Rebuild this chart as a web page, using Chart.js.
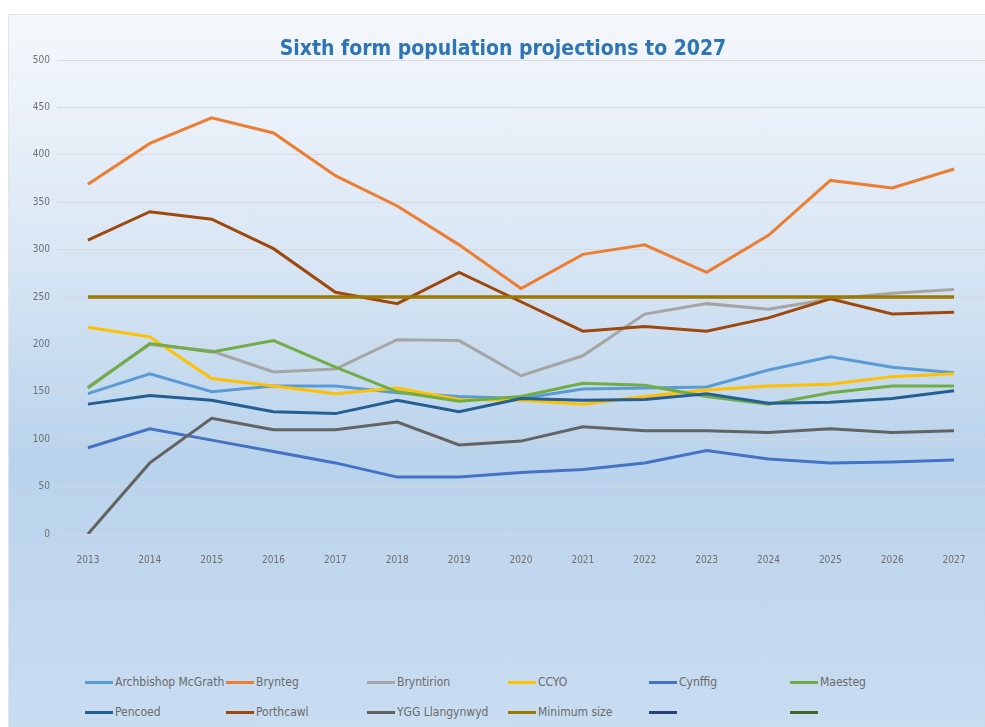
<!DOCTYPE html>
<html>
<head>
<meta charset="utf-8">
<script src="https://cdn.jsdelivr.net/npm/chart.js@4.4.1/dist/chart.umd.min.js"></script>
<style>
  html, body { margin: 0; padding: 0; width: 985px; height: 727px; overflow: hidden; background: #fff; }
  .frame {
    position: absolute; left: 8px; top: 14px; width: 990px; height: 720px;
    border: 1px solid #e2e4e8;
    background: linear-gradient(to bottom, #f5f8fc 0%, #dce8f5 30%, #b9d3ec 62%, #c2d8ee 80%, #c9ddf1 100%);
  }
  #myChart { position: absolute; left: 0; top: 0; }
  .title {
    position: absolute; left: 0; width: 1006px; top: 34px; text-align: center;
    font-family: 'Liberation Sans Narrow', 'DejaVu Sans Condensed', sans-serif;
    font-size: 21px; font-weight: bold; color: #2e75b6; line-height: 28px;
  }
  .legend-item {
    position: absolute; height: 14px; display: flex; align-items: center;
    font-family: 'Liberation Sans Narrow', 'DejaVu Sans Condensed', sans-serif;
    font-size: 12px; color: #6a6a6a; white-space: nowrap;
  }
  .legend-item span.swatch { display: inline-block; width: 28px; height: 3px; margin-right: 2px; }
</style>
</head>
<body>
<div class="frame"></div>
<canvas id="myChart" width="985" height="575"></canvas>
<div class="title">Sixth form population projections to 2027</div>
<div id="legend"></div>
<script>
const years = ['2013', '2014', '2015', '2016', '2017', '2018', '2019', '2020', '2021', '2022', '2023', '2024', '2025', '2026', '2027'];
const yTicks = [0, 50, 100, 150, 200, 250, 300, 350, 400, 450, 500];

const archbishop = [148, 169, 150, 156, 156, 149, 145, 143, 153, 154, 155, 173, 187, 176, 170];
const brynteg = [369, 412, 439, 423, 378, 346, 305, 259, 295, 305, 276, 315, 373, 365, 385];
const bryntirion = [155, 200, 193, 171, 174, 205, 204, 167, 188, 232, 243, 237, 248, 254, 258];
const ccyo = [218, 208, 164, 156, 148, 154, 142, 141, 137, 145, 152, 156, 158, 166, 169];
const cynffig = [91, 111, 99, 87, 75, 60, 60, 65, 68, 75, 88, 79, 75, 76, 78];
const maesteg = [154, 201, 192, 204, 176, 150, 140, 145, 159, 157, 145, 137, 149, 156, 156];
const pencoed = [137, 146, 141, 129, 127, 141, 129, 143, 141, 142, 148, 138, 139, 143, 151];
const porthcawl = [310, 340, 332, 301, 255, 243, 276, 245, 214, 219, 214, 228, 248, 232, 234];
const ygg = [0, 75, 122, 110, 110, 118, 94, 98, 113, 109, 109, 107, 111, 107, 109];
const minimumSize = [250, 250, 250, 250, 250, 250, 250, 250, 250, 250, 250, 250, 250, 250, 250];

const seriesNames = ['Archbishop McGrath', 'Brynteg', 'Bryntirion', 'CCYO', 'Cynffig', 'Maesteg',
    'Pencoed', 'Porthcawl', 'YGG Llangynwyd', 'Minimum size', '', ''];
const seriesData = [archbishop, brynteg, bryntirion, ccyo, cynffig, maesteg,
    pencoed, porthcawl, ygg, minimumSize, [], []];
const seriesColors = ['#5b9bd5', '#ed7d31', '#a5a5a5', '#ffc000', '#4472c4', '#70ad47',
    '#255e91', '#9e480e', '#636363', '#9c7800', '#264478', '#43682b'];

const narrow = "'Liberation Sans Narrow', 'DejaVu Sans Condensed', sans-serif";

const datasets = seriesNames.map((name, i) => ({
    label: name,
    data: seriesData[i],
    borderColor: seriesColors[i],
    backgroundColor: seriesColors[i],
    borderWidth: i === 9 ? 3.5 : 3,
    pointRadius: 0,
    tension: 0,
    fill: false,
    order: -i   // later series drawn on top, like the original
}));

const ctx = document.getElementById('myChart').getContext('2d');
const myChart = new Chart(ctx, {
    type: 'line',
    data: { labels: years, datasets: datasets },
    options: {
        responsive: false,
        animation: false,
        layout: { padding: { top: 60, left: 0, right: 0, bottom: 0 } },
        plugins: {
            legend: { display: false },
            title: { display: false },
            tooltip: { enabled: false }
        },
        scales: {
            x: {
                offset: true,
                grid: { display: false },
                border: { display: false },
                ticks: { color: '#6f6f6f', font: { family: narrow, size: 10 }, padding: 12, maxRotation: 0 },
                afterFit: s => { s.height = 41; }
            },
            y: {
                min: 0,
                max: 500,
                afterBuildTicks: s => { s.ticks = yTicks.map(v => ({ value: v })); },
                grid: { color: 'rgba(215,215,215,0.9)', lineWidth: 1, drawTicks: false },
                border: { display: false },
                ticks: { color: '#6f6f6f', font: { family: narrow, size: 10 }, padding: 7 },
                afterFit: s => { s.width = 57; }
            }
        }
    }
});

// legend laid out in a 6 x 2 grid, as in the original
const legend = document.getElementById('legend');
myChart.data.datasets.forEach((ds, i) => {
    const item = document.createElement('div');
    item.className = 'legend-item';
    item.style.left = (85 + (i % 6) * 141) + 'px';
    item.style.top = (i < 6 ? 675 : 705) + 'px';
    const sw = document.createElement('span');
    sw.className = 'swatch';
    sw.style.background = ds.borderColor;
    item.appendChild(sw);
    item.appendChild(document.createTextNode(ds.label));
    legend.appendChild(item);
});
</script>
</body>
</html>
